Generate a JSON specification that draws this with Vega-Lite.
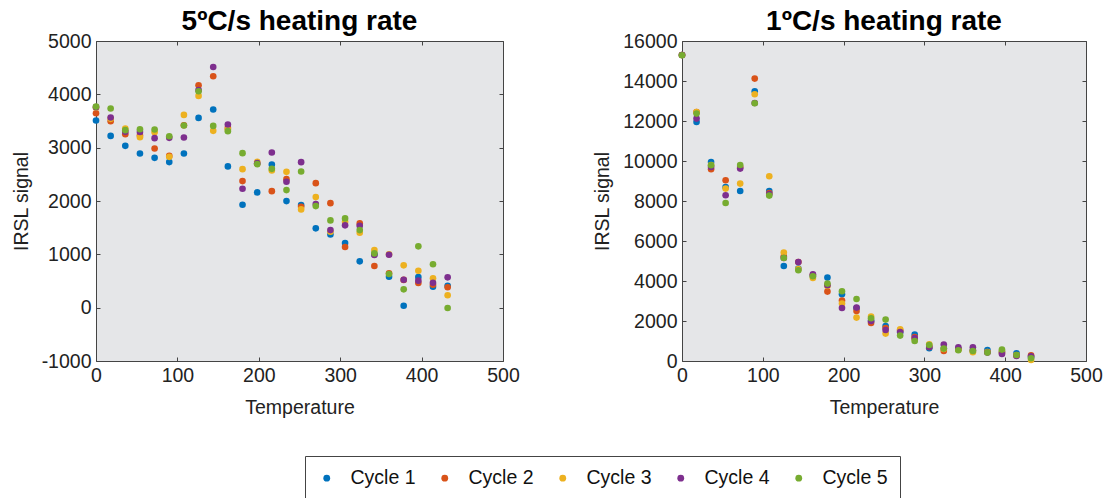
{
"$schema": "https://vega.github.io/schema/vega-lite/v6.json",
"padding": {"left": 11, "top": 8, "right": 5, "bottom": 0},
"datasets": {
"left": [
{"T":0,"c":"Cycle 1","v":3509},{"T":18,"c":"Cycle 1","v":3221},{"T":36,"c":"Cycle 1","v":3034},{"T":54,"c":"Cycle 1","v":2891},{"T":72,"c":"Cycle 1","v":2809},{"T":90,"c":"Cycle 1","v":2729},{"T":108,"c":"Cycle 1","v":2891},{"T":126,"c":"Cycle 1","v":3558},{"T":144,"c":"Cycle 1","v":3715},{"T":162,"c":"Cycle 1","v":2648},{"T":180,"c":"Cycle 1","v":1929},{"T":198,"c":"Cycle 1","v":2161},{"T":216,"c":"Cycle 1","v":2685},{"T":234,"c":"Cycle 1","v":1998},{"T":252,"c":"Cycle 1","v":1923},{"T":270,"c":"Cycle 1","v":1487},{"T":288,"c":"Cycle 1","v":1374},{"T":306,"c":"Cycle 1","v":1211},{"T":324,"c":"Cycle 1","v":869},{"T":342,"c":"Cycle 1","v":1000},{"T":360,"c":"Cycle 1","v":581},{"T":378,"c":"Cycle 1","v":37},{"T":396,"c":"Cycle 1","v":575},{"T":414,"c":"Cycle 1","v":393},{"T":432,"c":"Cycle 1","v":412},
{"T":0,"c":"Cycle 2","v":3646},{"T":18,"c":"Cycle 2","v":3496},{"T":36,"c":"Cycle 2","v":3253},{"T":54,"c":"Cycle 2","v":3230},{"T":72,"c":"Cycle 2","v":2985},{"T":90,"c":"Cycle 2","v":2846},{"T":108,"c":"Cycle 2","v":3420},{"T":126,"c":"Cycle 2","v":4170},{"T":144,"c":"Cycle 2","v":4339},{"T":162,"c":"Cycle 2","v":3371},{"T":180,"c":"Cycle 2","v":2373},{"T":198,"c":"Cycle 2","v":2700},{"T":216,"c":"Cycle 2","v":2185},{"T":234,"c":"Cycle 2","v":2410},{"T":252,"c":"Cycle 2","v":1891},{"T":270,"c":"Cycle 2","v":2335},{"T":288,"c":"Cycle 2","v":1960},{"T":306,"c":"Cycle 2","v":1137},{"T":324,"c":"Cycle 2","v":1580},{"T":342,"c":"Cycle 2","v":781},{"T":360,"c":"Cycle 2","v":644},{"T":378,"c":"Cycle 2","v":520},{"T":396,"c":"Cycle 2","v":463},{"T":414,"c":"Cycle 2","v":430},{"T":432,"c":"Cycle 2","v":382},
{"T":0,"c":"Cycle 3","v":3750},{"T":18,"c":"Cycle 3","v":3540},{"T":36,"c":"Cycle 3","v":3360},{"T":54,"c":"Cycle 3","v":3197},{"T":72,"c":"Cycle 3","v":3290},{"T":90,"c":"Cycle 3","v":2828},{"T":108,"c":"Cycle 3","v":3614},{"T":126,"c":"Cycle 3","v":3970},{"T":144,"c":"Cycle 3","v":3315},{"T":162,"c":"Cycle 3","v":3340},{"T":180,"c":"Cycle 3","v":2597},{"T":198,"c":"Cycle 3","v":2734},{"T":216,"c":"Cycle 3","v":2573},{"T":234,"c":"Cycle 3","v":2547},{"T":252,"c":"Cycle 3","v":1842},{"T":270,"c":"Cycle 3","v":2073},{"T":288,"c":"Cycle 3","v":1423},{"T":306,"c":"Cycle 3","v":1610},{"T":324,"c":"Cycle 3","v":1404},{"T":342,"c":"Cycle 3","v":1080},{"T":360,"c":"Cycle 3","v":1000},{"T":378,"c":"Cycle 3","v":794},{"T":396,"c":"Cycle 3","v":693},{"T":414,"c":"Cycle 3","v":551},{"T":432,"c":"Cycle 3","v":232},
{"T":0,"c":"Cycle 4","v":3760},{"T":18,"c":"Cycle 4","v":3565},{"T":36,"c":"Cycle 4","v":3300},{"T":54,"c":"Cycle 4","v":3296},{"T":72,"c":"Cycle 4","v":3178},{"T":90,"c":"Cycle 4","v":3184},{"T":108,"c":"Cycle 4","v":3191},{"T":126,"c":"Cycle 4","v":4080},{"T":144,"c":"Cycle 4","v":4513},{"T":162,"c":"Cycle 4","v":3434},{"T":180,"c":"Cycle 4","v":2229},{"T":198,"c":"Cycle 4","v":2710},{"T":216,"c":"Cycle 4","v":2910},{"T":234,"c":"Cycle 4","v":2360},{"T":252,"c":"Cycle 4","v":2728},{"T":270,"c":"Cycle 4","v":1942},{"T":288,"c":"Cycle 4","v":1455},{"T":306,"c":"Cycle 4","v":1543},{"T":324,"c":"Cycle 4","v":1536},{"T":342,"c":"Cycle 4","v":987},{"T":360,"c":"Cycle 4","v":993},{"T":378,"c":"Cycle 4","v":524},{"T":396,"c":"Cycle 4","v":506},{"T":414,"c":"Cycle 4","v":468},{"T":432,"c":"Cycle 4","v":569},
{"T":0,"c":"Cycle 5","v":3770},{"T":18,"c":"Cycle 5","v":3734},{"T":36,"c":"Cycle 5","v":3328},{"T":54,"c":"Cycle 5","v":3346},{"T":72,"c":"Cycle 5","v":3341},{"T":90,"c":"Cycle 5","v":3215},{"T":108,"c":"Cycle 5","v":3416},{"T":126,"c":"Cycle 5","v":4058},{"T":144,"c":"Cycle 5","v":3408},{"T":162,"c":"Cycle 5","v":3309},{"T":180,"c":"Cycle 5","v":2897},{"T":198,"c":"Cycle 5","v":2691},{"T":216,"c":"Cycle 5","v":2603},{"T":234,"c":"Cycle 5","v":2204},{"T":252,"c":"Cycle 5","v":2554},{"T":270,"c":"Cycle 5","v":1904},{"T":288,"c":"Cycle 5","v":1636},{"T":306,"c":"Cycle 5","v":1674},{"T":324,"c":"Cycle 5","v":1455},{"T":342,"c":"Cycle 5","v":1018},{"T":360,"c":"Cycle 5","v":631},{"T":378,"c":"Cycle 5","v":344},{"T":396,"c":"Cycle 5","v":1150},{"T":414,"c":"Cycle 5","v":813},{"T":432,"c":"Cycle 5","v":-6}
],
"right": [
{"T":0,"c":"Cycle 1","v":15300},{"T":18,"c":"Cycle 1","v":11950},{"T":36,"c":"Cycle 1","v":9950},{"T":54,"c":"Cycle 1","v":8700},{"T":72,"c":"Cycle 1","v":8500},{"T":90,"c":"Cycle 1","v":13485},{"T":108,"c":"Cycle 1","v":8500},{"T":126,"c":"Cycle 1","v":4750},{"T":144,"c":"Cycle 1","v":4620},{"T":162,"c":"Cycle 1","v":4250},{"T":180,"c":"Cycle 1","v":4170},{"T":198,"c":"Cycle 1","v":3335},{"T":216,"c":"Cycle 1","v":2650},{"T":234,"c":"Cycle 1","v":2000},{"T":252,"c":"Cycle 1","v":1750},{"T":270,"c":"Cycle 1","v":1450},{"T":288,"c":"Cycle 1","v":1320},{"T":306,"c":"Cycle 1","v":635},{"T":324,"c":"Cycle 1","v":620},{"T":342,"c":"Cycle 1","v":600},{"T":360,"c":"Cycle 1","v":520},{"T":378,"c":"Cycle 1","v":550},{"T":396,"c":"Cycle 1","v":460},{"T":414,"c":"Cycle 1","v":385},{"T":432,"c":"Cycle 1","v":200},
{"T":0,"c":"Cycle 2","v":15300},{"T":18,"c":"Cycle 2","v":12450},{"T":36,"c":"Cycle 2","v":9585},{"T":54,"c":"Cycle 2","v":9035},{"T":72,"c":"Cycle 2","v":9700},{"T":90,"c":"Cycle 2","v":14120},{"T":108,"c":"Cycle 2","v":8400},{"T":126,"c":"Cycle 2","v":5235},{"T":144,"c":"Cycle 2","v":4950},{"T":162,"c":"Cycle 2","v":4300},{"T":180,"c":"Cycle 2","v":3470},{"T":198,"c":"Cycle 2","v":3020},{"T":216,"c":"Cycle 2","v":2500},{"T":234,"c":"Cycle 2","v":1900},{"T":252,"c":"Cycle 2","v":1650},{"T":270,"c":"Cycle 2","v":1535},{"T":288,"c":"Cycle 2","v":1200},{"T":306,"c":"Cycle 2","v":700},{"T":324,"c":"Cycle 2","v":500},{"T":342,"c":"Cycle 2","v":600},{"T":360,"c":"Cycle 2","v":520},{"T":378,"c":"Cycle 2","v":450},{"T":396,"c":"Cycle 2","v":400},{"T":414,"c":"Cycle 2","v":300},{"T":432,"c":"Cycle 2","v":285},
{"T":0,"c":"Cycle 3","v":15300},{"T":18,"c":"Cycle 3","v":12450},{"T":36,"c":"Cycle 3","v":9800},{"T":54,"c":"Cycle 3","v":8620},{"T":72,"c":"Cycle 3","v":8870},{"T":90,"c":"Cycle 3","v":13335},{"T":108,"c":"Cycle 3","v":9235},{"T":126,"c":"Cycle 3","v":5420},{"T":144,"c":"Cycle 3","v":4600},{"T":162,"c":"Cycle 3","v":4150},{"T":180,"c":"Cycle 3","v":3750},{"T":198,"c":"Cycle 3","v":2870},{"T":216,"c":"Cycle 3","v":2170},{"T":234,"c":"Cycle 3","v":2220},{"T":252,"c":"Cycle 3","v":1370},{"T":270,"c":"Cycle 3","v":1585},{"T":288,"c":"Cycle 3","v":1100},{"T":306,"c":"Cycle 3","v":835},{"T":324,"c":"Cycle 3","v":600},{"T":342,"c":"Cycle 3","v":560},{"T":360,"c":"Cycle 3","v":435},{"T":378,"c":"Cycle 3","v":450},{"T":396,"c":"Cycle 3","v":480},{"T":414,"c":"Cycle 3","v":280},{"T":432,"c":"Cycle 3","v":50},
{"T":0,"c":"Cycle 4","v":15300},{"T":18,"c":"Cycle 4","v":12120},{"T":36,"c":"Cycle 4","v":9700},{"T":54,"c":"Cycle 4","v":8285},{"T":72,"c":"Cycle 4","v":9620},{"T":90,"c":"Cycle 4","v":12900},{"T":108,"c":"Cycle 4","v":8350},{"T":126,"c":"Cycle 4","v":5150},{"T":144,"c":"Cycle 4","v":4950},{"T":162,"c":"Cycle 4","v":4335},{"T":180,"c":"Cycle 4","v":3785},{"T":198,"c":"Cycle 4","v":2650},{"T":216,"c":"Cycle 4","v":2670},{"T":234,"c":"Cycle 4","v":2000},{"T":252,"c":"Cycle 4","v":1550},{"T":270,"c":"Cycle 4","v":1450},{"T":288,"c":"Cycle 4","v":1150},{"T":306,"c":"Cycle 4","v":700},{"T":324,"c":"Cycle 4","v":820},{"T":342,"c":"Cycle 4","v":685},{"T":360,"c":"Cycle 4","v":685},{"T":378,"c":"Cycle 4","v":420},{"T":396,"c":"Cycle 4","v":350},{"T":414,"c":"Cycle 4","v":250},{"T":432,"c":"Cycle 4","v":230},
{"T":0,"c":"Cycle 5","v":15285},{"T":18,"c":"Cycle 5","v":12370},{"T":36,"c":"Cycle 5","v":9785},{"T":54,"c":"Cycle 5","v":7900},{"T":72,"c":"Cycle 5","v":9800},{"T":90,"c":"Cycle 5","v":12885},{"T":108,"c":"Cycle 5","v":8270},{"T":126,"c":"Cycle 5","v":5150},{"T":144,"c":"Cycle 5","v":4535},{"T":162,"c":"Cycle 5","v":4235},{"T":180,"c":"Cycle 5","v":3870},{"T":198,"c":"Cycle 5","v":3485},{"T":216,"c":"Cycle 5","v":3100},{"T":234,"c":"Cycle 5","v":2135},{"T":252,"c":"Cycle 5","v":2070},{"T":270,"c":"Cycle 5","v":1270},{"T":288,"c":"Cycle 5","v":1000},{"T":306,"c":"Cycle 5","v":800},{"T":324,"c":"Cycle 5","v":620},{"T":342,"c":"Cycle 5","v":535},{"T":360,"c":"Cycle 5","v":500},{"T":378,"c":"Cycle 5","v":420},{"T":396,"c":"Cycle 5","v":570},{"T":414,"c":"Cycle 5","v":300},{"T":432,"c":"Cycle 5","v":135}
]
},
"spacing": 72,
"hconcat": [
{
"width": 407, "height": 320,
"title": {"text": "5ºC/s heating rate"},
"data": {"name": "left"},
"layer": [
{"mark": {"type": "point", "filled": true, "size": 44, "opacity": 1},
 "encoding": {
  "x": {"field": "T", "type": "quantitative", "scale": {"domain": [0, 500], "nice": false}, "axis": {"orient": "bottom", "title": "Temperature", "values": [0,100,200,300,400,500], "labelExpr": "datum.value + ''"}},
  "y": {"field": "v", "type": "quantitative", "scale": {"domain": [-1000, 5000], "nice": false}, "axis": {"orient": "left", "title": "IRSL signal", "values": [-1000,0,1000,2000,3000,4000,5000], "labelExpr": "datum.value + ''"}},
  "color": {"field": "c", "type": "nominal", "scale": {"domain": ["Cycle 1","Cycle 2","Cycle 3","Cycle 4","Cycle 5"], "range": ["#0072BD","#D95319","#EDB120","#7E2F8E","#77AC30"]}, "legend": {"title": null, "orient": "none", "direction": "horizontal", "legendX": 209, "legendY": 415}}
 }},
{"mark": {"type": "point", "opacity": 0},
 "encoding": {
  "x": {"field": "T", "type": "quantitative", "scale": {"domain": [0, 500], "nice": false}, "axis": {"orient": "top", "title": null, "labels": false, "values": [0,100,200,300,400,500]}},
  "y": {"field": "v", "type": "quantitative", "scale": {"domain": [-1000, 5000], "nice": false}, "axis": {"orient": "right", "title": null, "labels": false, "values": [-1000,0,1000,2000,3000,4000,5000]}}
 }}
],
"resolve": {"axis": {"x": "independent", "y": "independent"}}
},
{
"width": 404, "height": 320,
"title": {"text": "1ºC/s heating rate"},
"data": {"name": "right"},
"layer": [
{"mark": {"type": "point", "filled": true, "size": 44, "opacity": 1},
 "encoding": {
  "x": {"field": "T", "type": "quantitative", "scale": {"domain": [0, 500], "nice": false}, "axis": {"orient": "bottom", "title": "Temperature", "values": [0,100,200,300,400,500], "labelExpr": "datum.value + ''"}},
  "y": {"field": "v", "type": "quantitative", "scale": {"domain": [0, 16000], "nice": false}, "axis": {"orient": "left", "title": "IRSL signal", "values": [0,2000,4000,6000,8000,10000,12000,14000,16000], "labelExpr": "datum.value + ''"}},
  "color": {"field": "c", "type": "nominal", "scale": {"domain": ["Cycle 1","Cycle 2","Cycle 3","Cycle 4","Cycle 5"], "range": ["#0072BD","#D95319","#EDB120","#7E2F8E","#77AC30"]}, "legend": {"title": null, "orient": "none", "direction": "horizontal", "legendX": 209, "legendY": 415}}
 }},
{"mark": {"type": "point", "opacity": 0},
 "encoding": {
  "x": {"field": "T", "type": "quantitative", "scale": {"domain": [0, 500], "nice": false}, "axis": {"orient": "top", "title": null, "labels": false, "values": [0,100,200,300,400,500]}},
  "y": {"field": "v", "type": "quantitative", "scale": {"domain": [0, 16000], "nice": false}, "axis": {"orient": "right", "title": null, "labels": false, "values": [0,2000,4000,6000,8000,10000,12000,14000,16000]}}
 }}
],
"resolve": {"axis": {"x": "independent", "y": "independent"}}
}
],
"resolve": {"scale": {"x": "independent", "y": "independent"}},
"config": {
 "font": "Liberation Sans",
 "view": {"fill": "#e5e6e8", "stroke": null},
 "title": {"fontSize": 28, "fontWeight": "bold", "font": "Liberation Sans", "color": "#000", "anchor": "middle", "frame": "group", "baseline": "alphabetic", "offset": -5},
 "axis": {"grid": false, "domainColor": "#444", "domainWidth": 1, "tickColor": "#444", "tickSize": -4, "labelPadding": 9, "labelFontSize": 19.5, "labelColor": "#222", "labelFont": "Liberation Sans", "labelFlush": false, "labelOverlap": false, "titleFontSize": 19.5, "titleFontWeight": "normal", "titleColor": "#222", "titleFont": "Liberation Sans"},
 "axisX": {"titlePadding": 14},
 "axisY": {"titlePadding": 10},
 "legend": {"labelFontSize": 19.5, "labelFont": "Liberation Sans", "labelColor": "#111", "symbolSize": 46, "symbolType": "circle", "strokeColor": "#444", "padding": 12, "columnPadding": 19, "labelOffset": 14, "symbolStrokeWidth": 0}
}
}
